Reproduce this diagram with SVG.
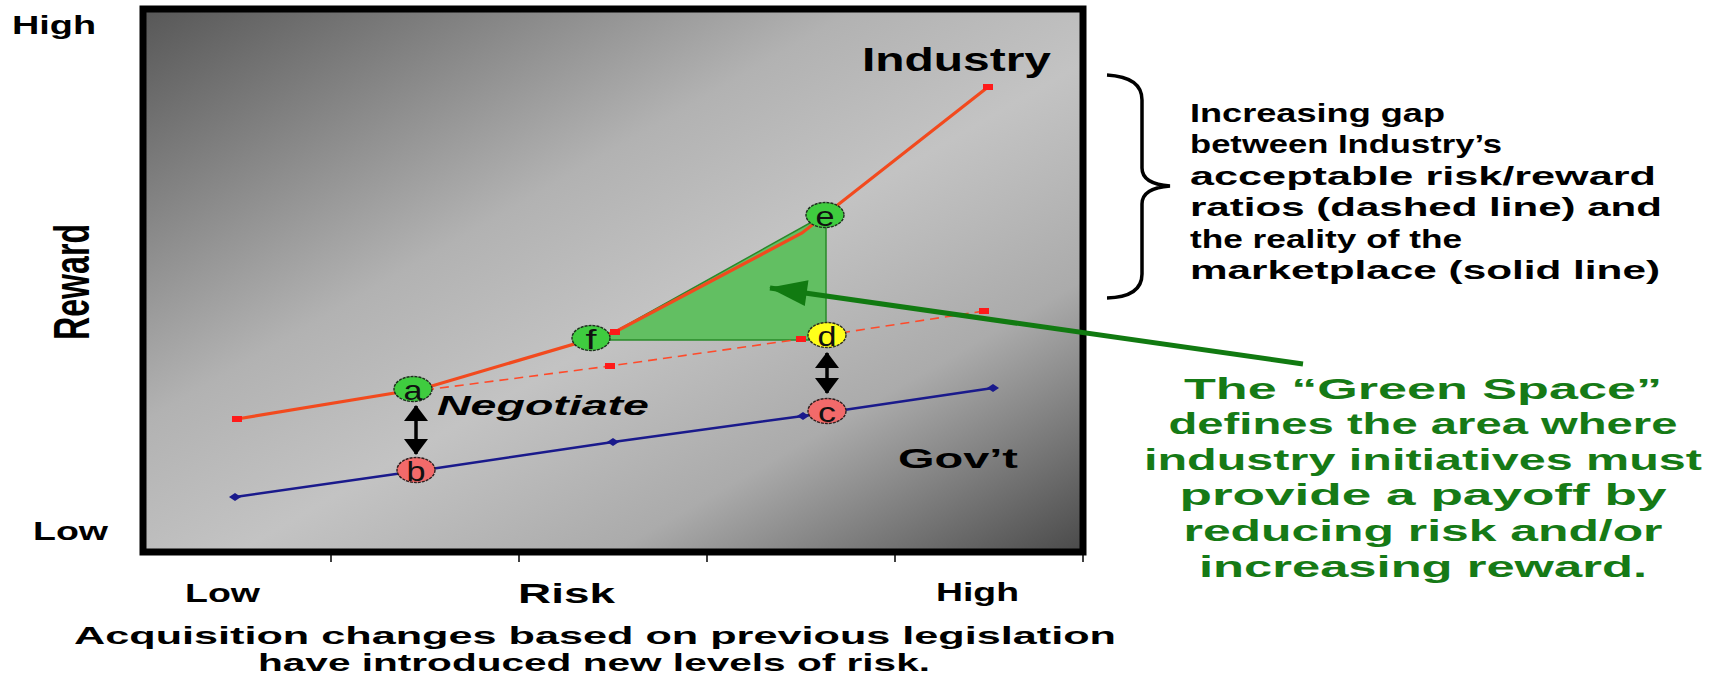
<svg xmlns="http://www.w3.org/2000/svg" width="1717" height="681" viewBox="0 0 1717 681">
<defs>
<linearGradient id="bg" x1="0" y1="0" x2="1" y2="1">
<stop offset="0" stop-color="#575757"/>
<stop offset="0.38" stop-color="#b2b2b2"/>
<stop offset="0.55" stop-color="#c3c3c3"/>
<stop offset="0.75" stop-color="#ababab"/>
<stop offset="1" stop-color="#4a4a4a"/>
</linearGradient>
<marker id="bh" viewBox="0 0 10 10" refX="9" refY="5" markerWidth="10" markerHeight="10" markerUnits="userSpaceOnUse" orient="auto-start-reverse" overflow="visible">
<path d="M-6,-7 L10,5 L-6,17 Z" fill="#000"/>
</marker>
<marker id="gh" viewBox="0 0 10 10" refX="9" refY="5" markerWidth="10" markerHeight="10" markerUnits="userSpaceOnUse" orient="auto" overflow="visible">
<path d="M-28,-8 L10,5 L-28,18 Z" fill="#117a11"/>
</marker>
</defs>
<style>
.t{font-family:"Liberation Sans",Arial,sans-serif;font-weight:bold;fill:#000;}
.g{font-family:"Liberation Sans",Arial,sans-serif;font-weight:bold;fill:#167a16;font-size:30px;text-anchor:middle;}
.lbl{font-family:"Liberation Sans",Arial,sans-serif;font-size:28px;fill:#111;text-anchor:middle;}
.sq{fill:#ff1a1a;}
.dm{fill:#1a1a8c;}
.nodeG{fill:#3fcc3f;stroke:#1e2e1e;stroke-width:1.4;stroke-dasharray:3 1;}
.nodeR{fill:#f26a6a;stroke:#2e1e1e;stroke-width:1.4;stroke-dasharray:3 1;}
.nodeY{fill:#ffff1a;stroke:#2e2e1e;stroke-width:1.4;stroke-dasharray:3 1;}
</style>

<rect x="0" y="0" width="1717" height="681" fill="#fff"/>

<g id="chart-frame">
<rect x="143" y="9" width="940" height="543" fill="url(#bg)" stroke="#000" stroke-width="7"/>
<g stroke="#000" stroke-width="1.5">
<line x1="331" y1="555" x2="331" y2="562"/>
<line x1="519" y1="555" x2="519" y2="562"/>
<line x1="707" y1="555" x2="707" y2="562"/>
<line x1="895" y1="555" x2="895" y2="562"/>
<line x1="1083" y1="555" x2="1083" y2="562"/>
</g>
</g>

<g id="axis-labels">
<text class="t" x="12" y="34" font-size="25" textLength="84" lengthAdjust="spacingAndGlyphs">High</text>
<text class="t" x="33" y="540" font-size="25" textLength="75" lengthAdjust="spacingAndGlyphs">Low</text>
<text class="t" transform="translate(89,282) scale(1.5,1) rotate(-90)" font-size="33" text-anchor="middle" textLength="116" lengthAdjust="spacingAndGlyphs">Reward</text>
<text class="t" x="185" y="602" font-size="26" textLength="75" lengthAdjust="spacingAndGlyphs">Low</text>
<text class="t" x="518" y="603" font-size="28" textLength="97" lengthAdjust="spacingAndGlyphs">Risk</text>
<text class="t" x="936" y="601" font-size="26" textLength="83" lengthAdjust="spacingAndGlyphs">High</text>
<text class="t" x="74" y="644" font-size="24" textLength="1042" lengthAdjust="spacingAndGlyphs">Acquisition changes based on previous legislation</text>
<text class="t" x="258" y="671" font-size="24" textLength="672" lengthAdjust="spacingAndGlyphs">have introduced new levels of risk.</text>
</g>

<g id="green-space">
<polygon points="600,340 826,214 826,340" fill="#62bf62" stroke="#2a8a2a" stroke-width="1.5"/>
</g>

<g id="connectors">
<polyline id="govt-line" points="235,497 424,470 613,442 803,416 993,388" fill="none" stroke="#1a1a8c" stroke-width="2.5"/>
<polyline id="industry-dashed" points="425,390 610,366 801,339 984,311" fill="none" stroke="#ff4a2a" stroke-width="1.6" stroke-dasharray="9 6"/>
<polyline id="industry-line" points="237,419 425,388 615,332 802,233 988,87" fill="none" stroke="#f24a1e" stroke-width="3.2"/>
<g id="markers">
<rect class="sq" x="232" y="416" width="10" height="6"/>
<rect class="sq" x="610" y="329" width="10" height="6"/>
<rect class="sq" x="983" y="84" width="10" height="6"/>
<rect class="sq" x="605" y="363" width="10" height="6"/>
<rect class="sq" x="796" y="336" width="10" height="6"/>
<rect class="sq" x="979" y="308" width="10" height="6"/>
<path class="dm" d="M229,497 L235,493 L241,497 L235,501 Z"/>
<path class="dm" d="M607,442 L613,438 L619,442 L613,446 Z"/>
<path class="dm" d="M797,416 L803,412 L809,416 L803,420 Z"/>
<path class="dm" d="M987,388 L993,384 L999,388 L993,392 Z"/>
</g>
<line id="arrow-ab" x1="416" y1="406" x2="416" y2="454" stroke="#000" stroke-width="3.5" marker-start="url(#bh)" marker-end="url(#bh)"/>
<line id="arrow-dc" x1="827" y1="353" x2="827" y2="393" stroke="#000" stroke-width="3.5" marker-start="url(#bh)" marker-end="url(#bh)"/>
</g>

<g id="node-a"><ellipse class="nodeG" cx="413" cy="389" rx="19" ry="12.5"/><text class="lbl" x="413" y="400" textLength="19" lengthAdjust="spacingAndGlyphs">a</text></g>
<g id="node-b"><ellipse class="nodeR" cx="416" cy="470" rx="19" ry="12.5"/><text class="lbl" x="416" y="481" textLength="19" lengthAdjust="spacingAndGlyphs">b</text></g>
<g id="node-c"><ellipse class="nodeR" cx="827" cy="411" rx="19" ry="12.5"/><text class="lbl" x="827" y="422" textLength="18" lengthAdjust="spacingAndGlyphs">c</text></g>
<g id="node-d"><ellipse class="nodeY" cx="827" cy="335" rx="19" ry="12.5"/><text class="lbl" x="827" y="346" textLength="19" lengthAdjust="spacingAndGlyphs">d</text></g>
<g id="node-e"><ellipse class="nodeG" cx="825" cy="215" rx="19" ry="12.5"/><text class="lbl" x="825" y="226" textLength="19" lengthAdjust="spacingAndGlyphs">e</text></g>
<g id="node-f"><ellipse class="nodeG" cx="591" cy="338" rx="19" ry="12.5"/><text class="lbl" x="591" y="349" textLength="11" lengthAdjust="spacingAndGlyphs">f</text></g>

<g id="chart-labels">
<text class="t" x="862" y="71" font-size="33" textLength="189" lengthAdjust="spacingAndGlyphs">Industry</text>
<text class="t" x="437" y="415" font-size="28" font-style="italic" textLength="212" lengthAdjust="spacingAndGlyphs">Negotiate</text>
<text class="t" x="898" y="468" font-size="28" textLength="120" lengthAdjust="spacingAndGlyphs">Gov’t</text>
</g>

<g id="gap-note">
<path d="M1107,75 Q1142,77 1142,100 L1142,168 Q1142,184 1170,186 Q1142,188 1142,204 L1142,274 Q1142,297 1107,298" fill="none" stroke="#000" stroke-width="3.5"/>
<text class="t" x="1190" y="122" font-size="26" textLength="255" lengthAdjust="spacingAndGlyphs">Increasing gap</text>
<text class="t" x="1190" y="153" font-size="26" textLength="312" lengthAdjust="spacingAndGlyphs">between Industry’s</text>
<text class="t" x="1190" y="185" font-size="26" textLength="466" lengthAdjust="spacingAndGlyphs">acceptable risk/reward</text>
<text class="t" x="1190" y="216" font-size="26" textLength="472" lengthAdjust="spacingAndGlyphs">ratios (dashed line) and</text>
<text class="t" x="1190" y="248" font-size="26" textLength="272" lengthAdjust="spacingAndGlyphs">the reality of the</text>
<text class="t" x="1190" y="279" font-size="26" textLength="470" lengthAdjust="spacingAndGlyphs">marketplace (solid line)</text>
</g>

<g id="green-note">
<line id="green-arrow" x1="1303" y1="364" x2="770" y2="288" stroke="#117a11" stroke-width="5" marker-end="url(#gh)"/>
<text class="g" x="1423" y="399" textLength="478" lengthAdjust="spacingAndGlyphs">The “Green Space”</text>
<text class="g" x="1423" y="434" textLength="509" lengthAdjust="spacingAndGlyphs">defines the area where</text>
<text class="g" x="1423" y="470" textLength="558" lengthAdjust="spacingAndGlyphs">industry initiatives must</text>
<text class="g" x="1423" y="505" textLength="487" lengthAdjust="spacingAndGlyphs">provide a payoff by</text>
<text class="g" x="1423" y="541" textLength="479" lengthAdjust="spacingAndGlyphs">reducing risk and/or</text>
<text class="g" x="1423" y="577" textLength="448" lengthAdjust="spacingAndGlyphs">increasing reward.</text>
</g>
</svg>
